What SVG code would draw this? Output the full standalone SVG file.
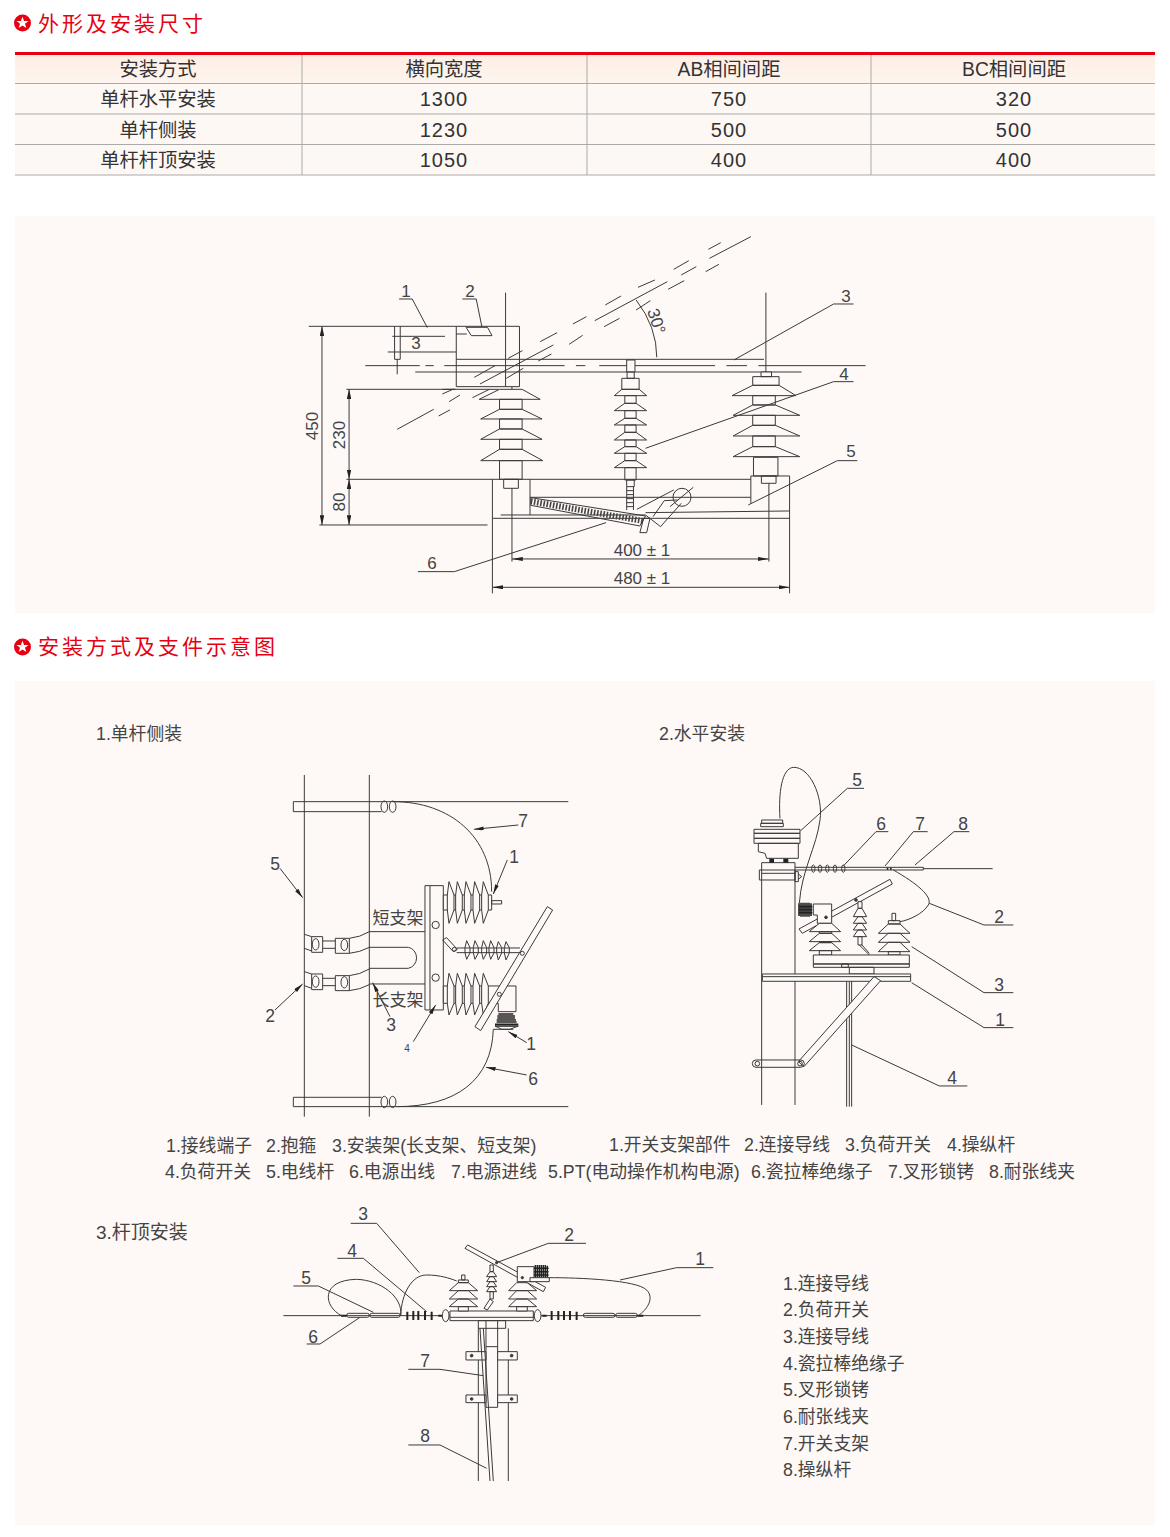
<svg xmlns="http://www.w3.org/2000/svg" width="1170" height="1537" viewBox="0 0 1170 1537">
<style>
text{font-family:"Liberation Sans","Noto Sans CJK SC",sans-serif;fill:#444;font-size:17.8px}
.c{text-anchor:middle}
.h{fill:#e60012;font-size:21px;letter-spacing:3px;font-family:"Noto Sans CJK SC",sans-serif}
.t{fill:#333;font-size:19.3px;text-anchor:middle}
.n{fill:#333;font-size:20px;letter-spacing:1px;text-anchor:middle}
.d{font-size:17px;text-anchor:middle;fill:#444}
.b{font-size:17.5px;text-anchor:middle}
g.l *{fill:none;stroke:#3a3a3a;stroke-width:1;vector-effect:non-scaling-stroke}
g.l .s{fill:#3a3a3a}
g.l .k{stroke-width:3;stroke:#222}
g.l .p{fill:#fef9f6}
</style>
<defs>
<marker id="ah" markerUnits="userSpaceOnUse" viewBox="0 0 24 10" markerWidth="30" markerHeight="12" refX="24" refY="5" orient="auto-start-reverse"><path d="M0 0L24 5L0 10Z" fill="#222"/></marker>
<linearGradient id="hd" x1="0" y1="0" x2="0" y2="1"><stop offset="0" stop-color="#fdeee5"/><stop offset="1" stop-color="#fef5ef"/></linearGradient>
<polygon id="star" points="0,-6.2 1.6,-1.9 6,-1.9 2.5,0.8 3.8,5 0,2.5 -3.8,5 -2.5,0.8 -6,-1.9 -1.6,-1.9" fill="#fff"/>
</defs>
<rect width="1170" height="1537" fill="#fff"/>

<g id="heading-1"><circle cx="22.5" cy="23" r="8.5" fill="#e60012"/><use href="#star" x="22.5" y="23"/><text class="h" x="38" y="31">外形及安装尺寸</text></g>

<g id="table">
<rect x="15" y="55" width="1140" height="29" fill="url(#hd)"/>
<rect x="15" y="84" width="1140" height="91" fill="#fef8f5"/>
<rect x="15" y="52" width="1140" height="3" fill="#e60012"/>
<path d="M15 83.5H1155M15 114H1155M15 144.5H1155M15 175H1155M302 55V175M587 55V175M871 55V175" fill="none" stroke="#aaa" stroke-width="1"/>
<text class="t" x="158" y="75.500">安装方式</text><text class="t" x="444" y="75.500">横向宽度</text><text class="t" x="729" y="75.500">AB相间间距</text><text class="t" x="1014" y="75.500">BC相间间距</text>
<text class="t" x="158" y="105.500">单杆水平安装</text><text class="n" x="444" y="106">1300</text><text class="n" x="729" y="106">750</text><text class="n" x="1014" y="106">320</text>
<text class="t" x="158" y="136.500">单杆侧装</text><text class="n" x="444" y="137">1230</text><text class="n" x="729" y="137">500</text><text class="n" x="1014" y="137">500</text>
<text class="t" x="158" y="166.500">单杆杆顶安装</text><text class="n" x="444" y="167">1050</text><text class="n" x="729" y="167">400</text><text class="n" x="1014" y="167">400</text>
</g>

<rect id="panel-1" x="15" y="216" width="1140" height="397" fill="#fef9f6"/>

<g id="drawing-dimensions" class="l" transform="translate(290 230) scale(.3762 .3333)">
<path d="M285 598L382 538M423 515L452 495M505 462L700 345M810 272L1003 155M1040 135L1080 110M1115 85L1225 20"/>
<path d="M490 442L545 407M580 385L618 362M665 335L710 308M752 282L788 260M838 225L880 198M925 172L970 150M1020 118L1060 92M1112 58L1145 38"/>
<path d="M395 558L425 540M485 503L530 478M575 445L620 415M660 393L695 372M742 343L778 316M835 290L876 265M920 240L958 212M1005 178L1048 152M1105 125L1140 103M405 492L435 477"/>
<path d="M50 289H610V470H442V289M442 388H1260M333 426H1360M200 407H345M360 407H382M410 407H730M760 407H785M822 407H1130M1160 407H1215M1245 407H1530"/>
<path d="M278 289V388H293V289M285 388V433M260 366H442M272 319H412"/>
<path d="M442 312H470M468 292H525L537 317H482Z"/>
<path d="M573 188V470M1265 188V525M590 470V995M1273 600V995"/>
<path d="M920 210Q975 290 975 382"/>
<g id="ins-left"><path class="p" d="M557 478H617L665 508H503ZM557 508H617V538H557ZM557 538H617L670 567H507ZM557 567H617V597H557ZM557 597H617L670 628H507ZM557 628H617V658H557ZM557 658H617L672 692H507ZM557 692H617V748H557ZM568 748H607V775H568Z"/></g>
<g id="ins-mid"><path class="p" d="M895 390H917V426H895ZM896 426H915V445H896ZM882 445H928V478H882ZM882 478H928L948 497H862ZM890 497H920V520H890ZM890 520H920L948 542H862ZM890 542H920V565H890ZM890 565H920L948 585H862ZM890 585H920V607H890ZM890 607H920L948 630H862ZM890 630H920V650H890ZM890 650H920L948 670H862ZM890 670H920V692H890ZM890 692H920L948 713H862ZM890 713H920V750H890ZM895 750H915V770H895Z"/><path d="M895 770V840M913 770V840M895 782H913M895 794H913M895 806H913M895 818H913M895 830H913"/></g>
<g id="ins-right"><path class="p" d="M1252 426H1280V440H1252ZM1230 440H1300V466H1230ZM1230 466H1300L1345 497H1175ZM1230 497H1290V525H1230ZM1230 525H1290L1355 556H1178ZM1230 556H1290V586H1230ZM1230 586H1290L1355 618H1178ZM1230 618H1290V650H1230ZM1230 650H1290L1355 680H1178ZM1232 682H1297V738H1232ZM1253 738H1292V760H1253Z"/></g>
<path d="M150 748H1225M1225 820V738H1328V1090M538 748V1090M538 865H1328M560 855H945M945 848L1328 843M638 748V855M638 802H1225"/>
<path d="M640 803L945 858L930 888L640 826Z"/>
<path d="M640 814L938 873" style="stroke-width:6;stroke-dasharray:1.6 1.6;stroke:#444"/>
<ellipse cx="1042" cy="802" rx="24" ry="27"/>
<path d="M922 838L1020 780M1010 830L1072 772M965 860L995 812L1030 810M985 890L1040 820M930 908H948L957 865H940ZM945 855L985 890"/>
<path d="M150 478H555M78 885H525M405 478H440"/>
<path d="M85 289V885" marker-start="url(#ah)" marker-end="url(#ah)"/>
<path d="M157 478V748" marker-start="url(#ah)" marker-end="url(#ah)"/>
<path d="M157 748V885" marker-start="url(#ah)" marker-end="url(#ah)"/>
<path d="M590 987H1273" marker-start="url(#ah)" marker-end="url(#ah)"/>
<path d="M538 1072H1328" marker-start="url(#ah)" marker-end="url(#ah)"/>
<path d="M290 207H325L365 293M458 207H495L510 290M1180 390L1445 222H1498M945 655L1445 455H1498M1218 825L1455 692H1508M340 1025H437L840 878"/>
</g>
<g id="dim-labels">
<text class="d" x="406" y="297">1</text><text class="d" x="470" y="297">2</text><text class="d" x="416" y="349">3</text>
<text class="d" x="846" y="302">3</text><text class="d" x="844" y="380">4</text><text class="d" x="851" y="457">5</text><text class="d" x="432" y="569">6</text>
<text class="d" x="642" y="556">400 ± 1</text><text class="d" x="642" y="584">480 ± 1</text>
<text class="d" transform="translate(318 426) rotate(-90)">450</text>
<text class="d" transform="translate(345 435) rotate(-90)">230</text>
<text class="d" transform="translate(345 502) rotate(-90)">80</text>
<text class="d" transform="translate(651 323) rotate(72)">30°</text>
</g>

<g id="heading-2"><circle cx="22.5" cy="647" r="8.5" fill="#e60012"/><use href="#star" x="22.5" y="647"/><text class="h" x="38" y="654">安装方式及支件示意图</text></g>
<rect id="panel-2" x="15" y="681" width="1140" height="844" fill="#fef9f6"/>

<g id="drawing-side" class="l" transform="translate(250 760) scale(.3333)">
<path d="M163 45V1070M358 45V1070"/>
<path d="M130 125H955M395 155H130V125M130 1040H955M395 1012H130V1040"/>
<ellipse cx="403" cy="140" rx="10" ry="17"/><ellipse cx="428" cy="140" rx="10" ry="17"/>
<ellipse cx="403" cy="1026" rx="10" ry="17"/><ellipse cx="428" cy="1026" rx="10" ry="17"/>
<path d="M430 125C600 125 725 230 725 395M440 1040C620 1040 725 960 730 808H790"/>
<g id="clamp-a"><path d="M163 523L185 530M163 565L185 573M185 530H218V577H185ZM218 543H256M218 565H256M256 535H298V580H256ZM298 535Q330 532 358 515M298 580Q330 577 358 562"/><ellipse cx="197" cy="553" rx="10" ry="17"/><ellipse cx="283" cy="555" rx="10" ry="17"/></g>
<g id="clamp-b"><path d="M163 635L185 642M163 677L185 685M185 642H218V689H185ZM218 655H256M218 677H256M256 647H298V692H256ZM298 647Q330 644 358 627M298 692Q330 689 358 674"/><ellipse cx="197" cy="665" rx="10" ry="17"/><ellipse cx="283" cy="667" rx="10" ry="17"/></g>
<path d="M358 515H525M358 672H525M358 562H475A30 32 0 0 1 475 625H358"/>
<rect class="p" x="525" y="377" width="55" height="373"/><path d="M540 377V750"/>
<circle cx="557" cy="495" r="11"/><circle cx="557" cy="653" r="11"/>
<path class="p" d="M580 405H595V450H580ZM595 405H725V450H595ZM725 422H755V432H725Z"/>
<path class="p" d="M597 365L612 405V450L597 490L592 450V405ZM622 365L637 405V450L622 490L617 450V405ZM648 365L663 405V450L648 490L643 450V405ZM674 365L689 405V450L674 490L669 450V405ZM700 365L715 405V450L700 490L695 450V405Z"/>
<path class="p" d="M580 678H595V730H580ZM595 678H798V755H745V730H595Z"/>
<path class="p" d="M597 640L612 678V730L597 765L592 730V678ZM622 640L637 678V730L622 765L617 730V678ZM648 640L663 678V730L648 765L643 730V678ZM674 640L689 678V730L674 765L669 730V678ZM700 640L715 678V730L700 765L695 730V678Z"/>
<path d="M578 540L590 533L622 568L610 575Z"/><circle cx="613" cy="568" r="6"/>
<path d="M620 564H810M620 578H810"/>
<path d="M650 542L660 563V579L650 598L645 578V563ZM675 542L685 563V579L675 598L670 578V563ZM700 542L710 563V579L700 598L695 578V563ZM722 542L732 563V579L722 598L717 578V563ZM745 545L755 563V579L745 600L740 578V563ZM768 545L778 563V579L768 600L763 578V563Z"/>
<path class="p" d="M675 800L692 812L908 450L892 440Z"/><circle cx="748" cy="703" r="6"/><circle cx="817" cy="580" r="6"/>
<path style="stroke-width:1.6;stroke:#222" d="M745 762H790M742 768H795M742 774H795M740 780H798M740 786H800M735 793H805M735 798H805"/>
<path d="M735 798L755 808H780L805 798"/>
<path d="M805 195L672 208" marker-end="url(#ah)"/>
<path d="M772 300L730 402" marker-end="url(#ah)"/>
<path d="M90 325L158 413" marker-end="url(#ah)"/>
<path d="M75 750L158 672" marker-end="url(#ah)"/>
<path d="M420 770L368 668" marker-end="url(#ah)"/>
<path d="M490 845L557 735" marker-end="url(#ah)"/>
<path d="M830 848L775 815" marker-end="url(#ah)"/>
<path d="M830 945L708 922" marker-end="url(#ah)"/>
</g>
<g id="side-labels">
<text class="b" x="523" y="827">7</text><text class="b" x="514" y="863">1</text><text class="b" x="275" y="870">5</text><text class="b" x="270" y="1022">2</text><text class="b" x="391" y="1031">3</text><text class="c" style="font-size:10px" x="407" y="1052">4</text><text class="b" x="531" y="1050">1</text><text class="b" x="533" y="1085">6</text>
<text class="c" style="font-size:17px" x="398" y="924">短支架</text><text class="c" style="font-size:17px" x="398" y="1006">长支架</text>
</g>

<g id="drawing-horizontal" class="l" transform="translate(730 760) scale(.3333)">
<path d="M95 1035V308H195V1035M88 330H195V360H88ZM95 340H195"/>
<path d="M195 335H205V365H195ZM205 342L215 350L205 358"/>
<path class="p" d="M95 180H158V190H95ZM92 190H160V200H92ZM72 208H210V220H72ZM72 220H210V235H72ZM72 235H210V250H72ZM85 250H205V295H110L105 280L85 275Z"/>
<path class="k" d="M118 302H132M160 302H175" style="stroke-width:4"/>
<path d="M150 175C145 100 155 25 190 22C240 20 280 110 270 180C260 260 215 330 208 430"/>
<path d="M195 322H580V330H195M580 326H788"/>
<ellipse cx="250" cy="326" rx="5" ry="11"/><ellipse cx="270" cy="326" rx="5" ry="11"/><ellipse cx="292" cy="326" rx="5" ry="11"/><ellipse cx="315" cy="326" rx="5" ry="11"/><ellipse cx="340" cy="326" rx="5" ry="11"/>
<path class="k" d="M470 326H475M480 326H485" style="stroke-width:2"/>
<path d="M490 330C560 370 610 410 595 435C580 460 540 480 510 485"/>
<path class="p" d="M207 507L217 520L487 372L480 358Z"/>
<path class="p" d="M250 432H305V490H262V465H250Z"/>
<path class="k" style="stroke-width:1.6" d="M207 430V468M213 428V470M219 428V470M225 428V470M231 428V470M237 428V470M243 430V468M207 440H247M207 449H247M207 458H247"/>
<circle class="s" cx="288" cy="472" r="4"/><circle class="s" cx="378" cy="420" r="4"/>
<path class="p" d="M268 490H305L332 515H238ZM268 515H305V520H268ZM268 520H305L332 545H238ZM268 545H305V548H268ZM268 548H305L332 572H238ZM268 572H305V585H268Z"/>
<path class="p" d="M384 425H396V445H384ZM384 445H396L410 470H370ZM384 470H396L410 490H370ZM384 490H396L410 510H370ZM384 510H396L410 530H370ZM384 530H396V555H384Z"/>
<path d="M388 555L418 585M396 555L418 580"/>
<path class="p" d="M486 460H497V482H486ZM475 482H510V492H475ZM475 492H510L540 520H445ZM475 520H510L540 547H445ZM475 547H510L540 575H445ZM475 575H510V585H475Z"/>
<path class="p" d="M250 585H538V612H250ZM250 612H538V622H250ZM358 622H432V642H358ZM335 612H355V622H335Z"/>
<path class="p" d="M97 642H542V664H97Z"/><path d="M97 650H542"/>
<path d="M350 664V1040M358 664V1040M365 664V1040"/>
<path class="p" d="M205 905L432 650L452 662L222 920Z"/>
<path d="M78 900H212A11 11 0 0 1 212 922H78A11 11 0 0 1 78 900Z"/>
<circle cx="82" cy="911" r="7"/><circle cx="210" cy="911" r="7"/>
<path d="M212 212L352 85H402M340 318L438 215H475M465 318L550 215H593M555 315L672 215H718M598 430L762 495H850M545 560L762 698H850M545 668L762 803H850M365 855L628 978H712"/>
</g>
<g id="horizontal-labels">
<text class="b" x="857" y="786">5</text><text class="b" x="881" y="830">6</text><text class="b" x="920" y="830">7</text><text class="b" x="963" y="830">8</text><text class="b" x="999" y="923">2</text><text class="b" x="999" y="991">3</text><text class="b" x="1000" y="1026">1</text><text class="b" x="952" y="1084">4</text>
</g>

<g id="drawing-top" class="l" transform="translate(280 1200) scale(.3333)">
<path d="M10 347H1262"/>
<rect x="200" y="340" width="68" height="12" rx="6"/><rect x="270" y="340" width="90" height="12" rx="5"/>
<rect x="910" y="340" width="95" height="12" rx="6"/><rect x="1007" y="340" width="65" height="12" rx="6"/>
<path class="k" style="stroke-width:2" d="M183 347H200M382 335V360M400 333V360M415 333V360M435 333V360M455 335V360M475 347H488M787 347H800M815 333V360M835 333V360M852 333V360M870 333V360M890 335V360M1072 347H1090"/>
<ellipse class="p" cx="497" cy="347" rx="10" ry="18"/><ellipse class="p" cx="773" cy="347" rx="10" ry="18"/>
<path class="p" d="M510 333H760V362H510Z"/><path d="M510 352H760"/>
<path d="M185 347C130 320 120 240 230 238C300 240 370 290 362 347M362 347C365 280 395 225 440 225C480 225 510 235 530 243M805 233C900 233 1070 240 1100 270C1125 295 1100 330 1075 347"/>
<path class="p" d="M545 225H555V240H545ZM535 240H565V248H535ZM535 248H565L593 272H508ZM535 272H565L593 297H508ZM535 297H565L593 320H508ZM535 320H565V333H535Z"/>
<path class="p" d="M710 248H742L770 272H686ZM710 272H742L770 297H686ZM710 297H742L770 320H686ZM710 320H742V333H710Z"/>
<path class="p" d="M555 145L563 135L797 262L790 275Z"/>
<path class="p" d="M712 200H762V245H712Z"/><path class="p" d="M750 233H808V245H750Z"/>
<path class="k" style="stroke-width:1.5" d="M766 195V232M772 195V232M778 195V232M784 195V232M790 195V232M796 195V232M802 197V232M762 205H806M762 215H806M762 225H806"/>
<circle class="s" cx="650" cy="188" r="3.5"/><circle class="s" cx="727" cy="233" r="3.5"/>
<path class="p" d="M630 195H640V215H630ZM630 215H640L650 230H620ZM630 230H640L650 245H620ZM630 245H640L650 260H620ZM630 260H640L650 275H620ZM630 275H640V297H630Z"/>
<path d="M630 297L640 305L622 330L612 325Z"/>
<path d="M595 362V843M685 385V843M595 362H677V385H595M618 362V622H653V362M618 440H653"/>
<path class="p" d="M558 455H618V480H558ZM653 455H712V480H653ZM558 585H618V608H558ZM653 585H712V608H653Z"/>
<circle class="s" cx="575" cy="467" r="4"/><circle class="s" cx="695" cy="467" r="4"/><circle class="s" cx="575" cy="597" r="4"/><circle class="s" cx="695" cy="597" r="4"/>
<path d="M600 385L630 843M610 385L640 843"/>
<path d="M1020 240L1190 203H1300M650 188L805 130H918M418 218L290 70H212M440 335L250 175H172M280 337L115 258H40M240 352L120 432H80M610 527L480 508H385M620 805L480 735H385"/>
</g>
<g id="top-labels">
<text class="b" x="700" y="1265">1</text><text class="b" x="569" y="1241">2</text><text class="b" x="363" y="1220">3</text><text class="b" x="352" y="1257">4</text><text class="b" x="306" y="1284">5</text><text class="b" x="313" y="1343">6</text><text class="b" x="425" y="1367">7</text><text class="b" x="425" y="1442">8</text>
</g>

<g id="captions">
<text x="96" y="739.500">1.单杆侧装</text><text x="659" y="739.500">2.水平安装</text><text x="96" y="1238.500" style="font-size:19px">3.杆顶安装</text>
<text x="166" y="1152">1.接线端子</text><text x="266" y="1152">2.抱箍</text><text x="332" y="1152">3.安装架(长支架、短支架)</text>
<text x="165" y="1178">4.负荷开关</text><text x="266" y="1178">5.电线杆</text><text x="349" y="1178">6.电源出线</text><text x="451" y="1178">7.电源进线</text>
<text x="609" y="1151">1.开关支架部件</text><text x="744" y="1151">2.连接导线</text><text x="845" y="1151">3.负荷开关</text><text x="947" y="1151">4.操纵杆</text>
<text x="548" y="1178">5.PT(电动操作机构电源)</text><text x="751" y="1178">6.瓷拉棒绝缘子</text><text x="888" y="1178">7.叉形锁铐</text><text x="989" y="1178">8.耐张线夹</text>
<text x="783" y="1289.500">1.连接导线</text><text x="783" y="1315.500">2.负荷开关</text><text x="783" y="1342.500">3.连接导线</text><text x="783" y="1369.500">4.瓷拉棒绝缘子</text><text x="783" y="1395.500">5.叉形锁铐</text><text x="783" y="1422.500">6.耐张线夹</text><text x="783" y="1449.500">7.开关支架</text><text x="783" y="1475.500">8.操纵杆</text>
</g>
</svg>
